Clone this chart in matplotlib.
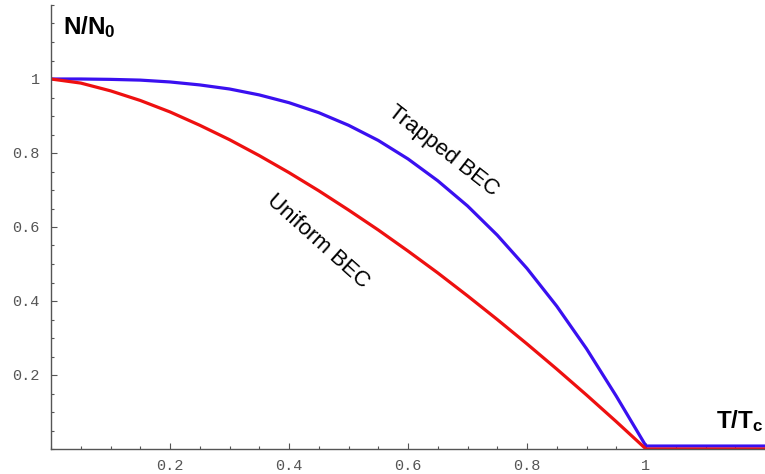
import matplotlib.pyplot as plt
from matplotlib.ticker import MultipleLocator, FixedLocator

plt.rcParams['mathtext.fontset'] = 'custom'
plt.rcParams['mathtext.rm'] = 'Liberation Sans'
plt.rcParams['mathtext.bf'] = 'Liberation Sans:bold'

# T/Tc values
t = [0.0, 0.05, 0.10, 0.15, 0.20, 0.25, 0.30, 0.35, 0.40, 0.45, 0.50,
     0.55, 0.60, 0.65, 0.70, 0.75, 0.80, 0.85, 0.90, 0.95, 1.0, 1.2]

# condensate fraction
uniform = [1.0, 0.989, 0.968, 0.942, 0.911, 0.875, 0.836, 0.793, 0.747, 0.698, 0.646,
           0.592, 0.535, 0.476, 0.414, 0.350, 0.284, 0.216, 0.146, 0.074, 0.0, 0.0]
trapped = [1.0, 1.0, 0.999, 0.997, 0.992, 0.984, 0.973, 0.957, 0.936, 0.909, 0.875,
           0.834, 0.784, 0.725, 0.657, 0.578, 0.488, 0.386, 0.271, 0.143, 0.008, 0.008]

tick_vals = [0.2, 0.4, 0.6, 0.8, 1.0]
tick_labels = ['0.2', '0.4', '0.6', '0.8', '1']

W, H = 765, 474
fig = plt.figure(figsize=(W / 100, H / 100), dpi=100)
ax = fig.add_axes([51 / W, 25 / H, (W - 51) / W, 444 / H])

ax.plot(t, trapped, color='#3a10f0', lw=2.3, solid_joinstyle='round')
ax.plot(t, uniform, color='#ee1010', lw=2.3, solid_joinstyle='round')

ax.set_xlim(0, 1.2)
ax.set_ylim(0, 1.2)

for s in ['top', 'right']:
    ax.spines[s].set_visible(False)
for s in ['left', 'bottom']:
    ax.spines[s].set_color('#555555')
    ax.spines[s].set_linewidth(1.0)

ax.xaxis.set_major_locator(FixedLocator(tick_vals))
ax.yaxis.set_major_locator(FixedLocator(tick_vals))
ax.set_xticklabels(tick_labels)
ax.set_yticklabels(tick_labels)
ax.xaxis.set_minor_locator(MultipleLocator(0.05))
ax.yaxis.set_minor_locator(MultipleLocator(0.05))
ax.tick_params(which='both', direction='in', color='#555555', width=0.8)
ax.tick_params(which='major', length=4)
ax.tick_params(which='minor', length=2.5)
ax.tick_params(axis='x', pad=7)
ax.tick_params(axis='y', pad=8)
for lab in ax.get_xticklabels() + ax.get_yticklabels():
    lab.set_fontfamily('Liberation Mono')
    lab.set_fontsize(11)
    lab.set_color('#555555')

ax.text(0.660, 0.805, 'Trapped BEC', rotation=-38, rotation_mode='anchor',
        ha='center', va='center', fontsize=16, family='Liberation Sans')
ax.text(0.448, 0.56, 'Uniform BEC', rotation=-42, rotation_mode='anchor',
        ha='center', va='center', fontsize=16, family='Liberation Sans')

fig.text(63 / W, 1 - 34 / H, r'$\mathbf{N/N_0}$', fontsize=17.5, ha='left', va='baseline')
fig.text(763 / W, 1 - 428 / H, r'$\mathbf{T/T_c}$', fontsize=17.5, ha='right', va='baseline')

fig.savefig('out.png', dpi=100)
